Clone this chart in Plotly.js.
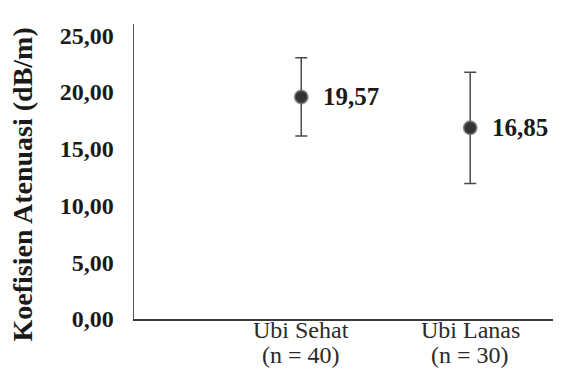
<!DOCTYPE html>
<html>
<head>
<meta charset="utf-8">
<script src="https://cdn.plot.ly/plotly-3.0.1.min.js"></script>
<style>html,body{margin:0;padding:0;background:#fff;}#chart{width:574px;height:376px;}</style>
</head>
<body>
<div id="chart"></div>
<script>
const categories = ["Ubi Sehat", "Ubi Lanas"];
const sampleSizes = ["(n = 40)", "(n = 30)"];
const means = [19.57, 16.85];
const errors = [3.45, 4.9];
const labels = ["19,57", "16,85"];
const yTicks = [0, 5, 10, 15, 20, 25];

const serif = "Liberation Serif, Times New Roman, serif";

const trace = {
  type: "scatter",
  mode: "markers",
  x: categories,
  y: means,
  error_y: {type: "data", array: errors, visible: true, color: "#4a4a4a", thickness: 1.5, width: 6},
  marker: {size: 13, color: "#333333", line: {color: "rgba(110,110,110,0.7)", width: 2}},
  hoverinfo: "skip",
  showlegend: false
};

const annotations = categories.map((c, i) => ({
  x: c, y: means[i], xref: "x", yref: "y",
  text: labels[i], showarrow: false, xanchor: "left", yanchor: "middle",
  xshift: 20, yshift: 0,
  font: {family: serif, size: 25, color: "#1a1a1a", weight: "bold"}
}));
categories.forEach((c, i) => {
  annotations.push({
    x: c, xref: "x", yref: "paper", y: 0, yanchor: "middle", xanchor: "center",
    yshift: -11, showarrow: false, text: c,
    font: {family: serif, size: 24, color: "#2a2a2a"}
  });
  annotations.push({
    x: c, xref: "x", yref: "paper", y: 0, yanchor: "middle", xanchor: "center",
    yshift: -36, showarrow: false, text: sampleSizes[i],
    font: {family: serif, size: 24, color: "#2a2a2a"}
  });
});
annotations.push({
  xref: "paper", yref: "paper", x: 0, y: 0.5, xshift: -112, yshift: -13,
  text: "<b>Koefisien Atenuasi (dB/m)</b>", textangle: -90, showarrow: false,
  xanchor: "center", yanchor: "middle",
  font: {family: serif, size: 28, color: "#1a1a1a"}
});

const layout = {
  width: 574, height: 376,
  margin: {l: 134, r: 21, t: 24, b: 57},
  paper_bgcolor: "#ffffff", plot_bgcolor: "#ffffff",
  separators: ",.",
  xaxis: {
    type: "category", range: [-0.99, 1.49],
    showgrid: false, zeroline: false,
    showline: true, linecolor: "#3a3a3a", linewidth: 2,
    ticks: "", showticklabels: false
  },
  yaxis: {
    range: [0, 26], tickvals: yTicks, tickformat: ".2f",
    showgrid: false, zeroline: false,
    showline: true, linecolor: "#555555", linewidth: 1.5,
    ticks: "", ticklabelstandoff: 14,
    tickfont: {family: serif, size: 24, color: "#1a1a1a", weight: "bold"}
  },
  annotations: annotations
};

Plotly.newPlot("chart", [trace], layout, {displayModeBar: false, staticPlot: true});
</script>
</body>
</html>
